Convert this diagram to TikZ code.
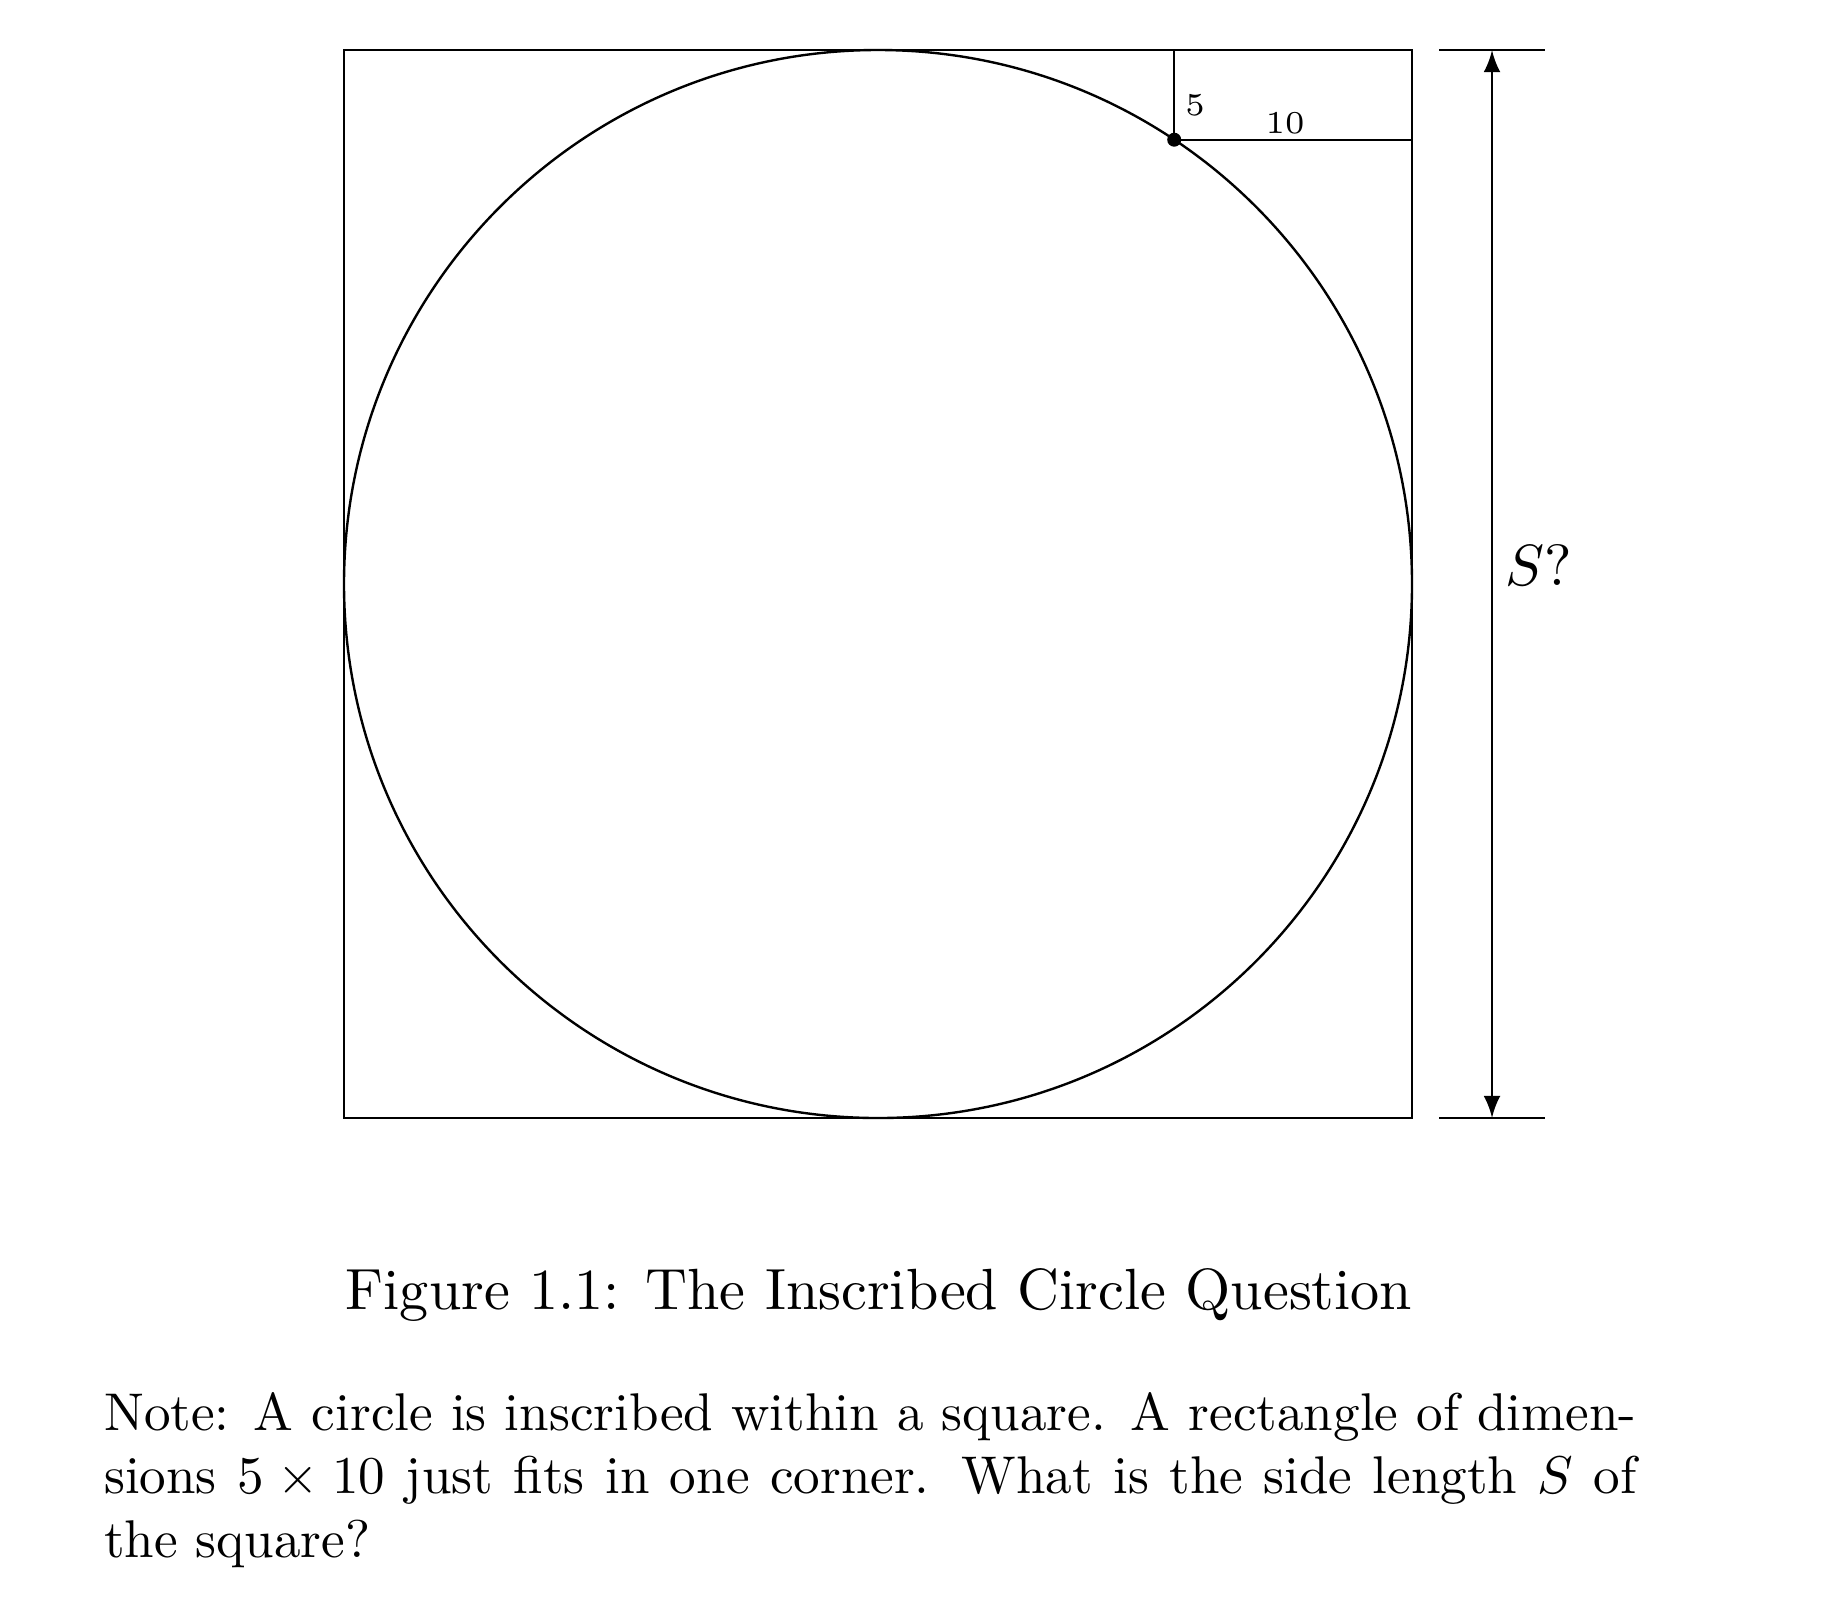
\documentclass[tikz,border=0pt]{standalone}
\usetikzlibrary{positioning, arrows}
\tikzset{
    every picture/.style={line width=0.45pt},
    figlabel/.style={inner sep=1pt, font=\fontsize{6}{7}\selectfont},
    sizelabel/.style={inner sep=0pt, font=\fontsize{10.95}{13.6}\selectfont},
    captiontext/.style={inner sep=0pt, font=\fontsize{10.95}{13.6}\selectfont},
    notebox/.style={inner sep=0pt, text width=288.6pt, align=justify,
        font=\fontsize{10}{12}\selectfont},
}

\begin{document}
\begin{tikzpicture}[x=0.18832pt, y=-0.18832pt, >=latex]
    \useasboundingbox (0,0) rectangle (1848,1610);

    % square and inscribed circle
    \coordinate (TL) at (344,50);
    \coordinate (BR) at (1412,1118);
    \coordinate (O) at (878,584);
    \draw (TL) rectangle (BR);
    \draw (O) circle (534);

    % corner rectangle
    \coordinate (P) at (1174.2,139.7);
    \coordinate (Ptop) at (1174.2,50);
    \coordinate (Pright) at (1412,139.7);
    \draw (P) -- (Ptop);
    \draw (P) -- (Pright);
    \fill (P) circle (7);
    \node[figlabel] (five) at (1195,105) {5};
    \node[figlabel, anchor=south] (ten) at (1285,141) {10};

    % dimension line
    \coordinate (dimtopL) at (1439,50);
    \coordinate (dimtopR) at (1545,50);
    \coordinate (dimbotL) at (1439,1118);
    \coordinate (dimbotR) at (1545,1118);
    \coordinate (dimtop) at (1492,50);
    \coordinate (dimbot) at (1492,1118);
    \draw (dimtopL) -- (dimtopR);
    \draw (dimbotL) -- (dimbotR);
    \draw[<->] (dimtop) -- (dimbot);
    \node[sizelabel] (side) at (1539,565) {$S?$};

    % caption and note
    \node[captiontext, anchor=base] (caption) at (879,1309)
        {Figure 1.1: The Inscribed Circle Question};
    \node[notebox, anchor=north west] (note) at (103,1391)
        {\noindent Note: A circle is inscribed within a square. A rectangle of dimen-\linebreak
        sions $5 \times 10$ just fits in one corner. What is the side length $S$ of\linebreak
        the square?};
\end{tikzpicture}
\end{document}
